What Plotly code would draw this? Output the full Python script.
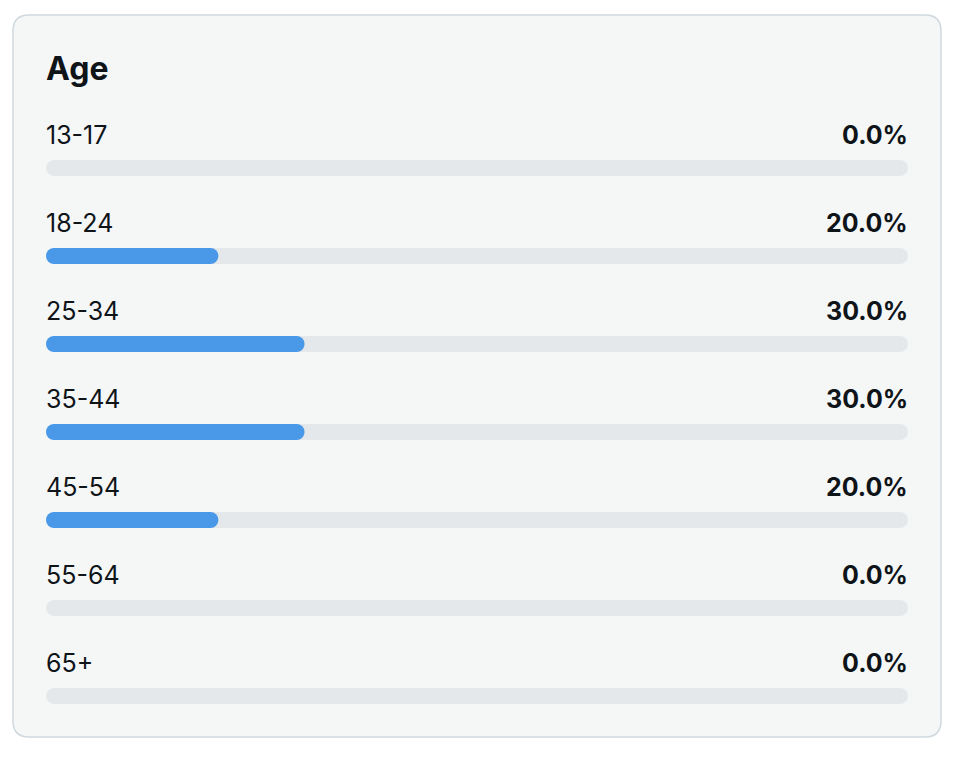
import plotly.graph_objects as go

# age distribution (share of audience, %)
age_groups = ["13-17", "18-24", "25-34", "35-44", "45-54", "55-64", "65+"]
shares = [0.0, 20.0, 30.0, 30.0, 20.0, 0.0, 0.0]
title = "Age"

W, H = 964, 760
OFF = 8  # the page body adds an 8px margin around the plot
TEXT = "#0f1419"
BLUE = "#4a99e9"
TRACK = "#e4e8eb"
CARD = "#f5f7f7"
BORDER = "#cfd9de"

# pixel layout of the card (as seen on the page)
card_l, card_t, card_r, card_b, rad = 13 - OFF, 15 - OFF, 941 - OFF, 737 - OFF, 16
bar_l, bar_r = 46 - OFF, 908 - OFF
row0, row_gap, bar_h = 168 - OFF, 88, 16

idx = list(range(len(age_groups)))
y_top = -row0 / row_gap
y_bot = y_top + H / row_gap
bw = bar_h / row_gap


def bars(values, color):
    # an explicit base makes plotly round both ends of the bar
    return go.Bar(
        y=idx, x=values, base=[0] * len(values), orientation="h", width=bw,
        marker=dict(color=color, cornerradius=bar_h / 2, line_width=0),
        hoverinfo="skip", showlegend=False,
    )


fig = go.Figure()
fig.add_trace(bars([100] * len(age_groups), TRACK))
fig.add_trace(bars(shares, BLUE))

for i, (g, s) in enumerate(zip(age_groups, shares)):
    fig.add_annotation(x=0, y=i, text=g, xanchor="left", yanchor="middle",
                       xshift=-2, yshift=33, showarrow=False,
                       font=dict(family="Inter", size=25, color=TEXT))
    fig.add_annotation(x=100, y=i, text=f"<b>{s:.1f}%</b>", xanchor="right",
                       yanchor="middle", xshift=2, yshift=33, showarrow=False,
                       font=dict(family="Inter", size=25, color=TEXT))

fig.add_annotation(xref="paper", yref="paper", x=(46 - OFF) / W, y=1 - (68 - OFF) / H,
                   text=f"<b>{title}</b>", xanchor="left", yanchor="middle",
                   xshift=-2, showarrow=False,
                   font=dict(family="Inter", size=32, color=TEXT))


# rounded card behind everything
def px(x, y):
    return f"{x / W:.5f},{1 - y / H:.5f}"


card_path = (
    f"M {px(card_l + rad, card_t)} L {px(card_r - rad, card_t)} "
    f"Q {px(card_r, card_t)} {px(card_r, card_t + rad)} "
    f"L {px(card_r, card_b - rad)} Q {px(card_r, card_b)} {px(card_r - rad, card_b)} "
    f"L {px(card_l + rad, card_b)} Q {px(card_l, card_b)} {px(card_l, card_b - rad)} "
    f"L {px(card_l, card_t + rad)} Q {px(card_l, card_t)} {px(card_l + rad, card_t)} Z"
)
fig.add_shape(type="path", path=card_path, xref="paper", yref="paper",
              fillcolor=CARD, line=dict(color=BORDER, width=1.5), layer="below")

fig.update_layout(
    width=W, height=H, margin=dict(l=0, r=0, t=0, b=0),
    paper_bgcolor="white", plot_bgcolor="rgba(0,0,0,0)",
    barmode="overlay",
    xaxis=dict(range=[0, 100], domain=[bar_l / W, bar_r / W], visible=False, fixedrange=True),
    yaxis=dict(range=[y_bot, y_top], domain=[0, 1], visible=False, fixedrange=True),
)

fig.write_html("out.html", config={"displayModeBar": False})
